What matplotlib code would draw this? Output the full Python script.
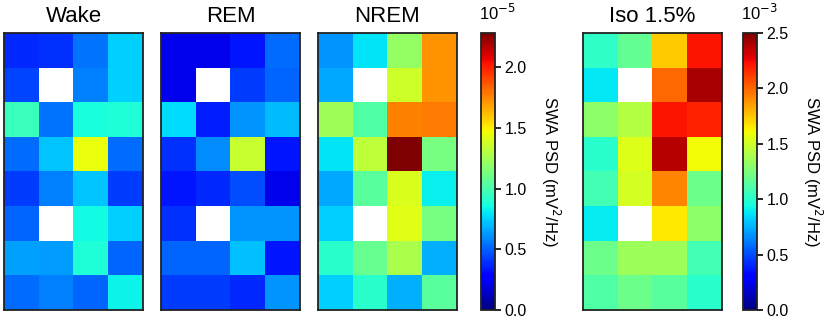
import numpy as np
import matplotlib
matplotlib.use("Agg")
import matplotlib.pyplot as plt

plt.rcParams['font.family'] = ['Liberation Sans', 'DejaVu Sans']

nan = np.nan

# SWA PSD maps, 8 rows x 4 columns (values in units of 1e-5 mV^2/Hz)
wake = np.array([
    [0.38, 0.40, 0.55, 0.75],
    [0.44, nan, 0.57, 0.75],
    [0.96, 0.55, 0.87, 0.89],
    [0.53, 0.73, 1.45, 0.53],
    [0.42, 0.57, 0.73, 0.42],
    [0.51, nan, 0.85, 0.75],
    [0.65, 0.64, 0.89, 0.51],
    [0.53, 0.57, 0.51, 0.83],
])
rem = np.array([
    [0.22, 0.22, 0.33, 0.53],
    [0.22, nan, 0.42, 0.51],
    [0.78, 0.35, 0.62, 0.71],
    [0.40, 0.60, 1.35, 0.33],
    [0.33, 0.38, 0.46, 0.22],
    [0.40, nan, 0.62, 0.62],
    [0.51, 0.51, 0.72, 0.33],
    [0.42, 0.42, 0.38, 0.62],
])
nrem = np.array([
    [0.62, 0.80, 1.21, 1.71],
    [0.66, nan, 1.37, 1.71],
    [1.24, 1.02, 1.76, 1.78],
    [0.80, 1.32, 2.28, 1.13],
    [0.66, 1.05, 1.40, 0.82],
    [0.75, nan, 1.42, 1.13],
    [0.91, 1.08, 1.27, 0.68],
    [0.75, 0.91, 0.68, 1.05],
])
# Iso 1.5% map (units of 1e-3 mV^2/Hz)
iso = np.array([
    [1.02, 1.18, 1.73, 2.22],
    [0.88, nan, 2.00, 2.41],
    [1.30, 1.42, 2.22, 2.18],
    [1.00, 1.55, 2.38, 1.61],
    [1.08, 1.52, 1.92, 1.21],
    [0.89, nan, 1.66, 1.30],
    [1.21, 1.35, 1.35, 1.08],
    [1.12, 1.21, 1.15, 1.00],
])

titles = ["Wake", "REM", "NREM", "Iso 1.5%"]
sleep_ticks = [0.0, 0.5, 1.0, 1.5, 2.0]
iso_ticks = [0.0, 0.5, 1.0, 1.5, 2.0, 2.5]

W, H = 829, 318
fig = plt.figure(figsize=(W / 100, H / 100), dpi=100)

def px_axes(x0, y0, w, h):
    # pixel box measured from the top-left corner
    return fig.add_axes([x0 / W, (H - y0 - h) / H, w / W, h / H])

cmap = plt.get_cmap('jet').copy()
cmap.set_bad('white')

def heatmap(ax, data, vmax, title):
    im = ax.imshow(np.ma.masked_invalid(data), cmap=cmap, vmin=0, vmax=vmax,
                   aspect='auto', interpolation='nearest')
    ax.set_xticks([])
    ax.set_yticks([])
    for s in ax.spines.values():
        s.set_linewidth(1.3)
        s.set_color('#222222')
    ax.set_title(title, fontsize=16, pad=8)
    return im

def colorbar(im, cax, ticks, power):
    cb = fig.colorbar(im, cax=cax, ticks=ticks)
    cb.ax.set_yticklabels([f"{t:.1f}" for t in ticks])
    cb.ax.tick_params(labelsize=11.5, length=4, width=1.2, pad=3)
    cb.outline.set_linewidth(1.3)
    cb.outline.set_edgecolor('#222222')
    cb.set_label("SWA PSD (mV$^2$/Hz)", rotation=270, fontsize=12, labelpad=25)
    cax.text(-0.15, 1.035, "10$^{" + str(power) + "}$", transform=cax.transAxes,
             fontsize=12, ha='left', va='bottom')
    return cb

top, hgt, wid = 33, 277, 139
vmax_sleep = np.nanmax(nrem)

ax1 = px_axes(4, top, wid, hgt)
heatmap(ax1, wake, vmax_sleep, titles[0])
ax2 = px_axes(161, top, wid, hgt)
heatmap(ax2, rem, vmax_sleep, titles[1])
ax3 = px_axes(318, top, wid, hgt)
im3 = heatmap(ax3, nrem, vmax_sleep, titles[2])
cax1 = px_axes(481, top, 14, hgt)
colorbar(im3, cax1, sleep_ticks, -5)

ax4 = px_axes(583, top, wid, hgt)
im4 = heatmap(ax4, iso, 2.5, titles[3])
cax2 = px_axes(743, top, 14, hgt)
colorbar(im4, cax2, iso_ticks, -3)

fig.savefig("out.png", dpi=100)
